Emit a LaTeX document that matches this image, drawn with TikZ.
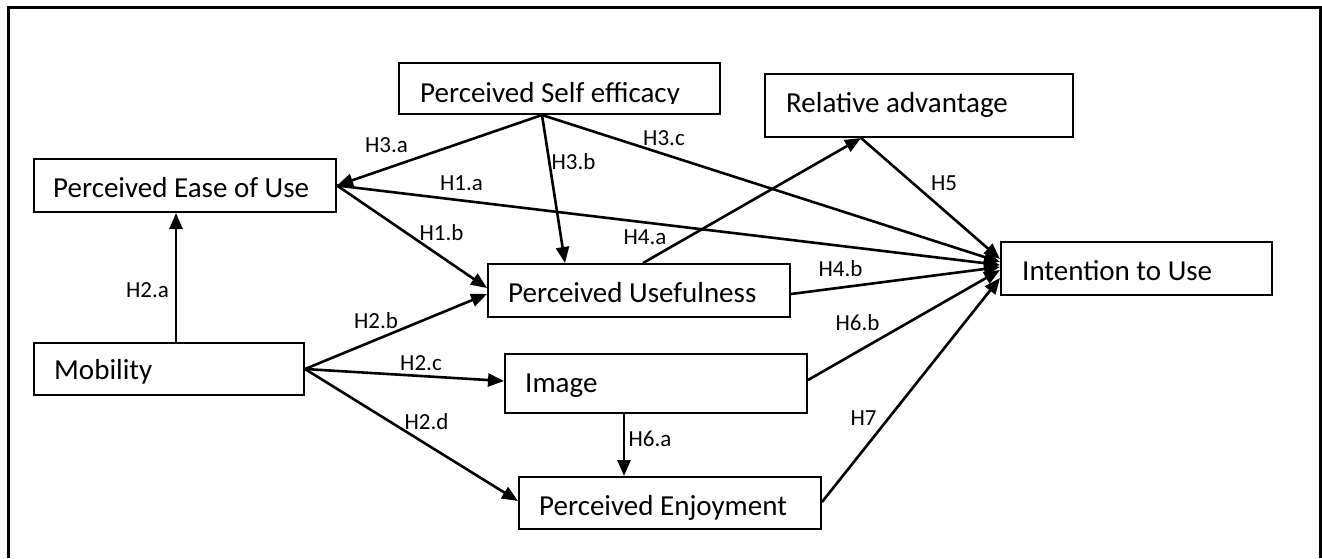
\documentclass[tikz,border=0pt]{standalone}
\usepackage{fontspec}
\setmainfont{Carlito}
\usetikzlibrary{arrows.meta}

\begin{document}
\begin{tikzpicture}[x = 1pt,
                    y = -1pt,
                    line join = miter]


  % FRAME
  \useasboundingbox (0,0) rectangle (1322,558);
  \draw[line width=3pt] (8.5,558) -- (8.5,7) -- (1320,7) -- (1320,558);


  % BOXES STYLE
  \tikzstyle{boxstyle} = [draw=black, line width=2pt, rectangle, inner sep=0pt, anchor=north west]
  \tikzstyle{boxtext} = [anchor=base west, inner sep=0pt, font=\fontsize{29}{34}\selectfont]
  \tikzstyle{hyplabel} = [anchor=base, inner sep=0pt, font=\fontsize{23}{27}\selectfont]
  \tikzstyle{arrowstyle} = [line width=2.6pt, -{Triangle[length=16pt, width=13pt]}]


  % DEF BOXES
  \node[boxstyle, minimum width=321pt, minimum height=51pt] (se)   at (398,62)   {};
  \node[boxstyle, minimum width=308pt, minimum height=63pt] (ra)   at (764,73)   {};
  \node[boxstyle, minimum width=302pt, minimum height=53pt] (peou) at (33,158)   {};
  \node[boxstyle, minimum width=271pt, minimum height=53pt] (itu)  at (1000,241) {};
  \node[boxstyle, minimum width=302pt, minimum height=53pt] (pu)   at (487,263)  {};
  \node[boxstyle, minimum width=270pt, minimum height=52pt] (mob)  at (33,342)   {};
  \node[boxstyle, minimum width=302pt, minimum height=59pt] (img)  at (504,353)  {};
  \node[boxstyle, minimum width=302pt, minimum height=52pt] (pe)   at (518,476)  {};


  % BOX TEXTS
  \begin{scope}
    \clip (se.north west) rectangle ([yshift=-41pt]se.north east);
    \node[boxtext] (se_t) at ([shift={(22,40)}]se.north west) {Perceived Self efficacy};
  \end{scope}
  \node[boxtext] (ra_t)   at ([shift={(22,39)}]ra.north west)   {Relative advantage};
  \node[boxtext] (peou_t) at ([shift={(20,39)}]peou.north west) {Perceived Ease of Use};
  \node[boxtext] (itu_t)  at ([shift={(22,39)}]itu.north west)  {Intention to Use};
  \node[boxtext] (pu_t)   at ([shift={(21,39)}]pu.north west)   {Perceived Usefulness};
  \node[boxtext] (mob_t)  at ([shift={(21,37)}]mob.north west)  {Mobility};
  \node[boxtext] (img_t)  at ([shift={(21,39)}]img.north west)  {Image};
  \node[boxtext] (pe_t)   at ([shift={(21,39)}]pe.north west)   {Perceived Enjoyment};


  % ARROWS
  \draw[arrowstyle] ([xshift=-17.5pt]se.south) -- (peou.east);
  \draw[arrowstyle] ([xshift=-17.5pt]se.south) -- ([xshift=-74pt]pu.north);
  \draw[arrowstyle] ([xshift=-17.5pt]se.south) -- ([yshift=6.5pt]itu.west);
  \draw[arrowstyle] (peou.east) -- ([yshift=3.5pt]itu.west);
  \draw[arrowstyle] (peou.east) -- ([yshift=2.5pt]pu.west);
  \draw[arrowstyle] ([xshift=7pt]mob.north) -- ([xshift=-9pt]peou.south);
  \draw[arrowstyle] (mob.east) -- ([yshift=-3.5pt]pu.west);
  \draw[arrowstyle] (mob.east) -- ([yshift=2.5pt]img.west);
  \draw[arrowstyle] (mob.east) -- ([yshift=2pt]pe.west);
  \draw[arrowstyle] ([xshift=4pt]pu.north) -- ([xshift=-58pt]ra.south);
  \draw[arrowstyle] ([xshift=-58pt]ra.south) -- ([yshift=9.5pt]itu.west);
  \draw[arrowstyle] ([yshift=-3.5pt]pu.east) -- ([yshift=1.5pt]itu.west);
  \draw[arrowstyle] ([yshift=3.5pt]img.east) -- ([yshift=-1.5pt]itu.west);
  \draw[arrowstyle] ([xshift=-32pt]img.south) -- ([xshift=-46pt]pe.north);
  \draw[arrowstyle] ([yshift=1pt]pe.east) -- ([yshift=-9.5pt]itu.west);


  % LABELS
  \node[hyplabel] (h3a) at (386.5,152.5) {H3.a};
  \node[hyplabel] (h1a) at (461.5,190.5) {H1.a};
  \node[hyplabel] (h1b) at (441.5,240.5) {H1.b};
  \node[hyplabel] (h3b) at (573.5,169.5) {H3.b};
  \node[hyplabel] (h3c) at (664,145.5)   {H3.c};
  \node[hyplabel] (h4a) at (645,244.5)   {H4.a};
  \node[hyplabel] (h5)  at (944,190.5)   {H5};
  \node[hyplabel] (h4b) at (840.5,276.5) {H4.b};
  \node[hyplabel] (h6b) at (857.5,330.5) {H6.b};
  \node[hyplabel] (h7)  at (863.5,425.5) {H7};
  \node[hyplabel] (h6a) at (650,446.5)   {H6.a};
  \node[hyplabel] (h2a) at (147.5,297.5) {H2.a};
  \node[hyplabel] (h2b) at (376,328.5)   {H2.b};
  \node[hyplabel] (h2c) at (421,370.5)   {H2.c};
  \node[hyplabel] (h2d) at (426.5,429.5) {H2.d};

\end{tikzpicture}
\end{document}
